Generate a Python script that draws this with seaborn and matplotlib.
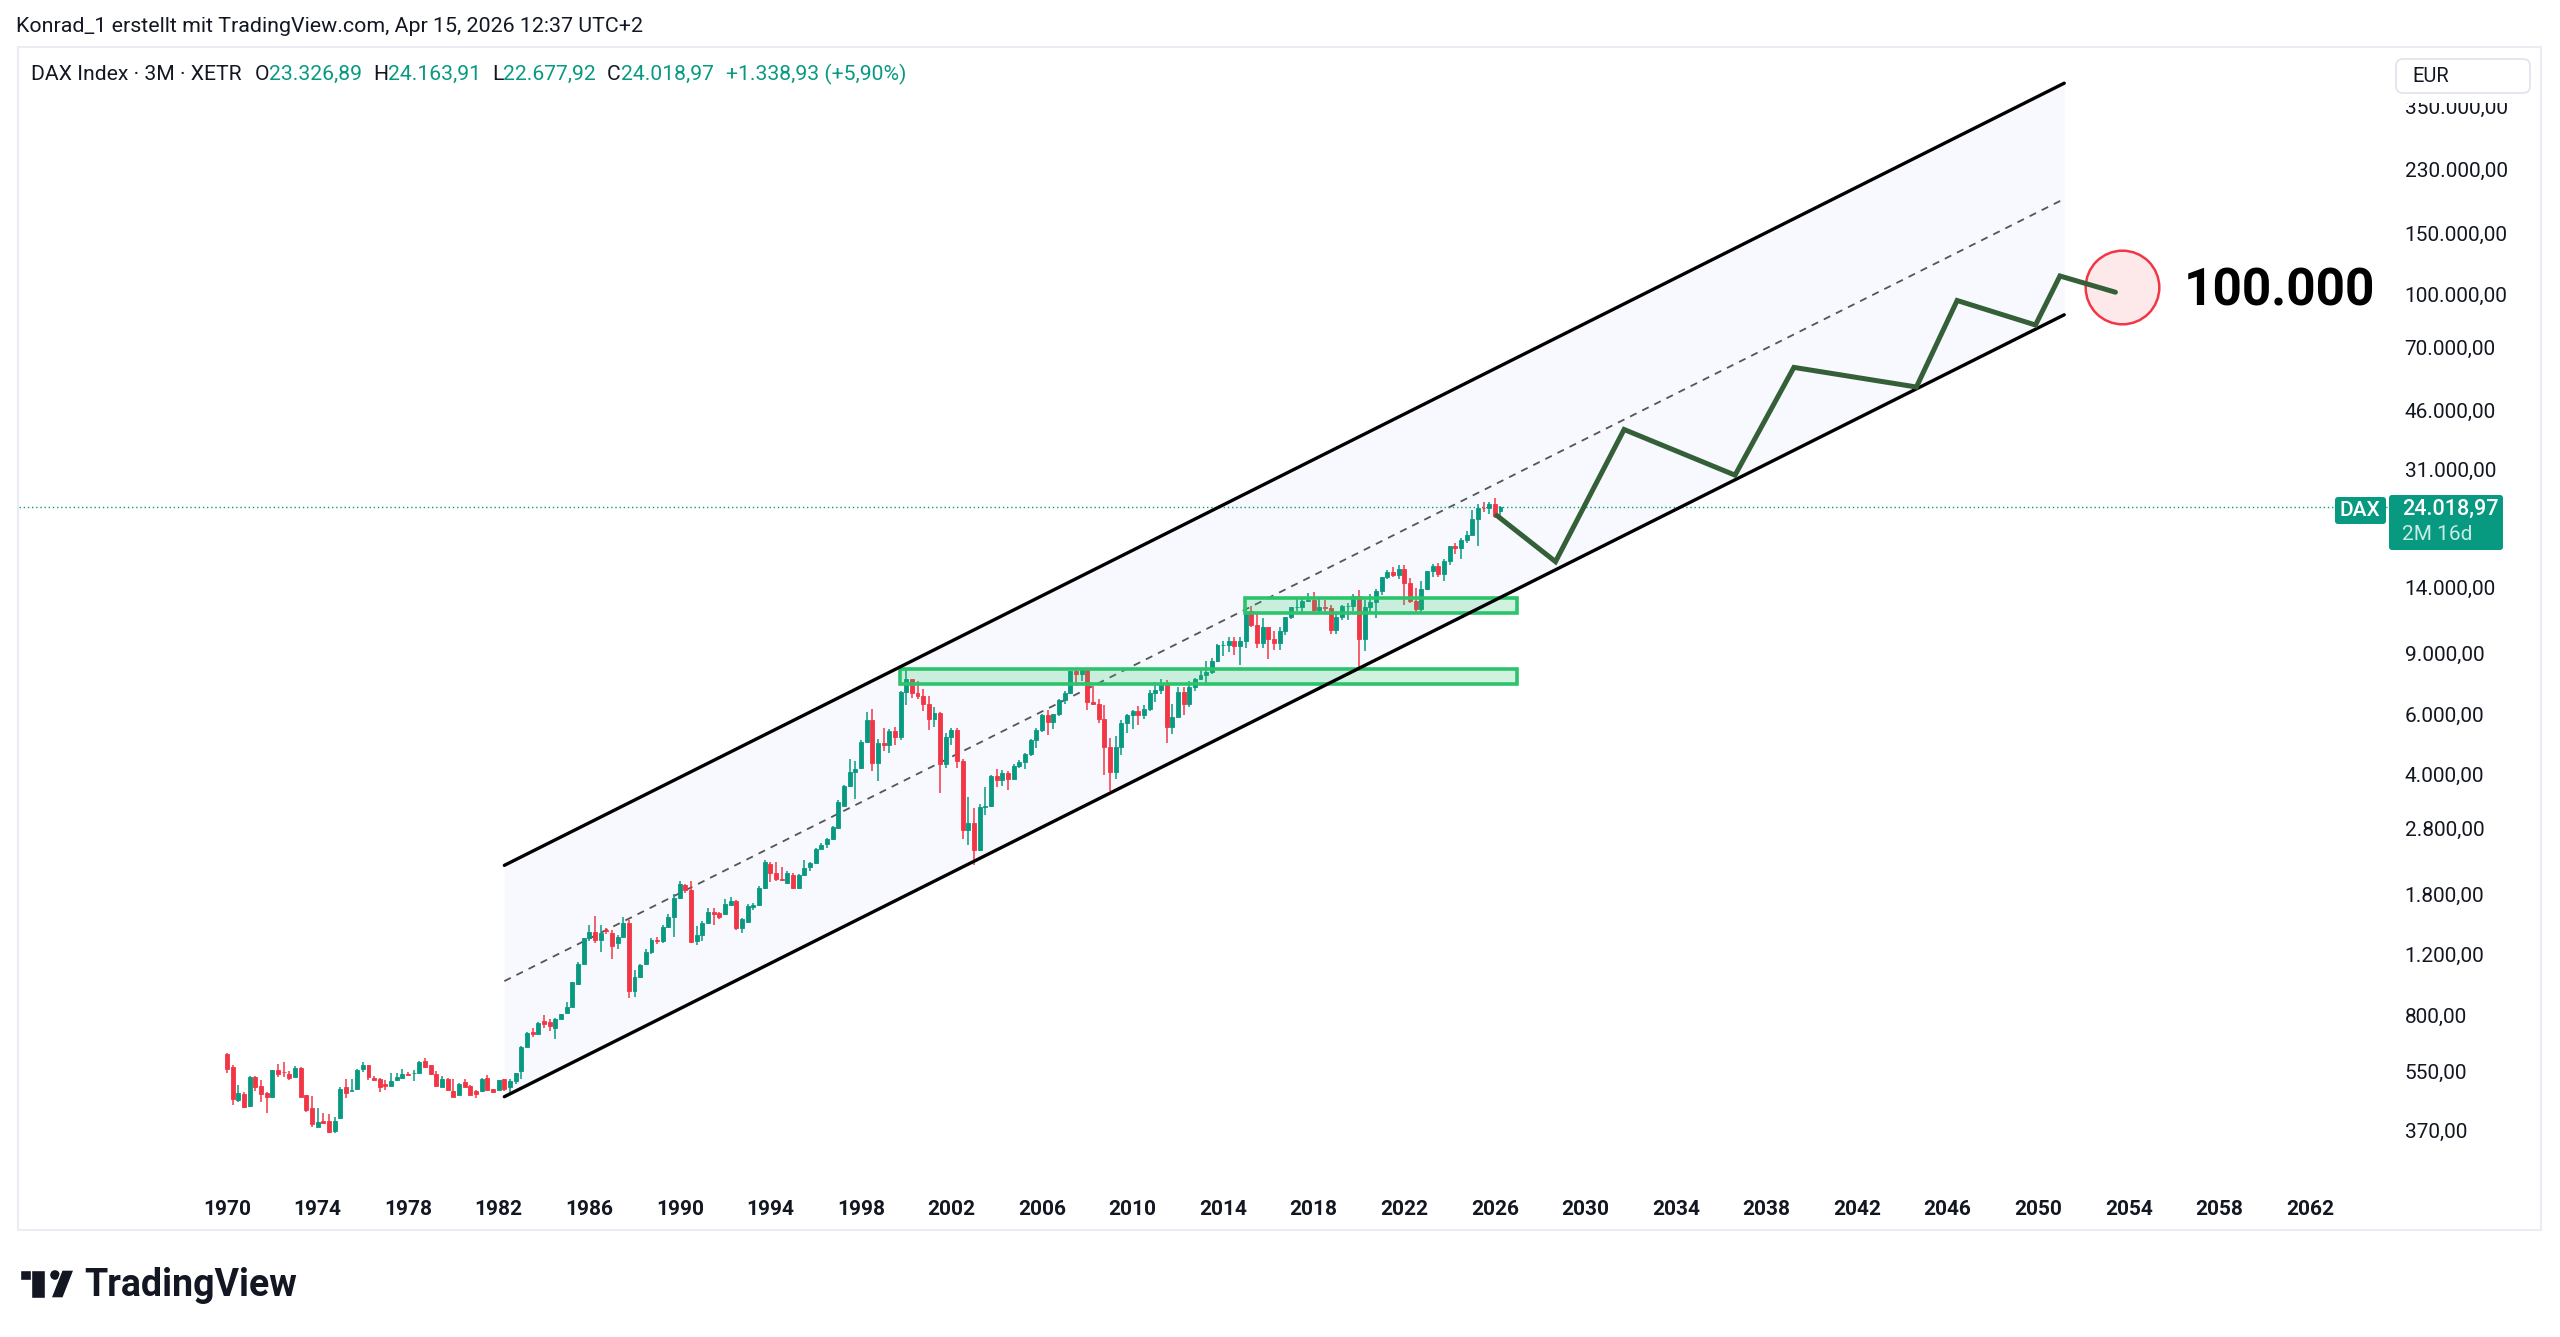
import numpy as np
import pandas as pd
import matplotlib
matplotlib.use("Agg")
import matplotlib.pyplot as plt
from matplotlib.patches import Rectangle, FancyBboxPatch, Circle, Polygon
from matplotlib.transforms import Affine2D
import seaborn as sns

# ---- DAX quarterly candles, 1970Q1 .. 2026Q2 ----
quarters = pd.period_range("1970Q1", "2026Q2", freq="Q")

opens = [
    618, 565, 454, 472,  436, 531, 498, 477,  462, 553, 549, 541,  531, 561, 468, 429,   # 1970-73
    380, 395, 395, 369,  402, 496, 482, 487,  557, 572, 527, 524,  505, 498, 519, 525,   # 1974-77
    541, 543, 545, 589,  572, 541, 496, 524,  483, 470, 511, 500,  481, 482, 527, 488,   # 1978-81
    486, 522, 496, 515,  550, 649, 717, 706,  771, 765, 734, 783,  811, 846, 987, 1130,  # 1982-85
    1340, 1400, 1324, 1420,  1385, 1300, 1355, 1480,  940, 1036, 1130, 1223,            # 1986-88
    1328, 1316, 1449, 1550,  1760, 1913, 1849, 1320,  1370, 1488, 1595, 1585,           # 1989-91
    1578, 1673, 1722, 1433,  1498, 1655, 1673, 1871,  2202, 2081, 1987, 1944,           # 1992-94
    2046, 1871, 2046, 2163,  2222, 2443, 2515, 2604,  2797, 3256, 3722, 4088,           # 1995-97
    4179, 4997, 5777, 4322,  4940, 4884, 5378, 5150,  6958, 7599, 6898, 6798,           # 1998-00
    6434, 5830, 6058, 4308,  5160, 5397, 4383, 2770,  2893, 2424, 3221, 3257,           # 2001-03
    3965, 3856, 4053, 3893,  4256, 4349, 4586, 5044,  5408, 5970, 5683, 6004,           # 2004-06
    6597, 6917, 8007, 7862,  8067, 6535, 6418, 5831,  4810, 4085, 4809, 5675,           # 2007-09
    5957, 6154, 5966, 6229,  6914, 7041, 7376, 5502,  5898, 6947, 6416, 7216,           # 2010-12
    7612, 7795, 7959, 8594,  9552, 9556, 9833, 9474,  9806, 11966, 10945, 9660,         # 2013-15
    10743, 9965, 9680, 10511,  11481, 12313, 12325, 12829,  12918, 12097, 12306, 12247, # 2016-18
    10559, 11526, 12399, 12428,  13249, 9936, 12311, 12761,  13719, 15008, 15531, 15261,# 2019-21
    15885, 14415, 12784, 12114,  13924, 15629, 16148, 15387,  16752, 18492, 18235, 19325,# 2022-24
    19909, 22163, 23910, 23881,  24490, 23327,                                          # 2025-26
]
highs = [
    620, 572, 503, 478,  532, 533, 519, 480,  556, 576, 586, 552,  569, 565, 470, 467,
    429, 417, 413, 406,  496, 522, 521, 557,  584, 574, 533, 526,  519, 543, 545, 558,
    549, 555, 590, 600,  575, 551, 533, 526,  522, 507, 521, 503,  485, 527, 538, 490,
    520, 524, 524, 545,  652, 717, 733, 764,  800, 778, 786, 808,  874, 1000, 1140, 1345,
    1465, 1555, 1465, 1440,  1416, 1370, 1543, 1510,  1080, 1130, 1245, 1340,
    1350, 1460, 1580, 1800,  1960, 1926, 1966, 1450,  1500, 1640, 1640, 1600,
    1740, 1770, 1730, 1530,  1680, 1700, 1900, 2260,  2238, 2238, 2163, 2100,
    2070, 2060, 2260, 2240,  2460, 2540, 2620, 2850,  3380, 3750, 4440, 4400,
    5050, 6100, 6217, 5100,  5460, 5450, 5500, 6990,  8136, 7600, 7500, 7120,
    6795, 6300, 6100, 5300,  5460, 5470, 4450, 3450,  3200, 3300, 3700, 4000,
    4160, 4140, 4100, 4300,  4430, 4630, 5100, 5460,  6000, 6160, 6020, 6630,
    7030, 8040, 8150, 8100,  8110, 7230, 6650, 6400,  5110, 5180, 5760, 6030,
    6160, 6340, 6390, 7080,  7440, 7600, 7530, 6430,  7190, 7200, 7480, 7670,
    8060, 8560, 8770, 9620,  9800, 10050, 10050, 10090,  12220, 12390, 11800, 11430,
    10750, 10490, 10760, 11480,  12310, 12950, 12960, 13530,  13600, 13200, 12890, 12460,
    11800, 12440, 12660, 13430,  13800, 12900, 13460, 13900,  15070, 15800, 16030, 16290,
    16290, 14930, 13950, 14680,  15700, 16430, 16530, 17000,  18570, 18890, 19490, 20520,
    23476, 24479, 24770, 24800,  25500, 24164,
]
lows = [
    543, 439, 449, 430,  434, 483, 449, 417,  460, 528, 531, 519,  529, 462, 420, 380,
    378, 386, 365, 365,  401, 460, 482, 485,  549, 519, 516, 478,  485, 497, 517, 524,
    535, 517, 545, 561,  537, 498, 494, 483,  464, 468, 494, 468,  460, 480, 482, 476,
    484, 482, 470, 504,  524, 646, 694, 704,  736, 722, 681, 781,  811, 845, 980, 1125,
    1320, 1300, 1223, 1380,  1163, 1250, 1350, 900,  905, 1030, 1117, 1210,
    1290, 1300, 1440, 1350,  1740, 1820, 1300, 1280,  1320, 1480, 1465, 1520,
    1570, 1665, 1420, 1390,  1495, 1620, 1660, 1860,  1957, 1970, 1960, 1930,
    1860, 1865, 2030, 2100,  2210, 2430, 2460, 2590,  2790, 3250, 3700, 3400,
    4150, 4940, 4100, 3833,  4700, 4620, 4900, 5050,  6388, 6700, 6650, 6150,
    5400, 5500, 3540, 4200,  4900, 4200, 2600, 2500,  2189, 2400, 3050, 3230,
    3690, 3720, 3620, 3860,  4180, 4150, 4550, 4780,  5330, 5240, 5450, 5950,
    6440, 6890, 7250, 7500,  6170, 6400, 5660, 4010,  3589, 3900, 4580, 5300,
    5430, 5600, 5800, 6150,  6510, 6860, 4966, 5260,  5900, 5970, 6290, 7030,
    7570, 7410, 7850, 8500,  8870, 9100, 8900, 8355,  9380, 10790, 9330, 9340,
    8700, 9210, 9210, 10170,  11380, 12000, 11870, 12790,  11730, 11880, 11780, 10280,
    10280, 11300, 11270, 11990,  8256, 9150, 11870, 11450,  13310, 14800, 15000, 14800,
    12440, 12620, 11860, 11860,  13800, 15000, 15000, 14630,  16350, 17600, 17020, 18830,
    19860, 18490, 23200, 23000,  22400, 22678,
]
closes = [
    560, 456, 477, 432,  528, 494, 472, 464,  553, 540, 546, 526,  563, 464, 425, 386,
    393, 390, 367, 395,  489, 475, 485, 555,  574, 529, 519, 496,  498, 514, 531, 541,
    537, 545, 587, 565,  541, 498, 524, 485,  464, 504, 496, 470,  473, 524, 485, 478,
    518, 488, 515, 543,  649, 709, 706, 761,  755, 745, 781, 806,  844, 998, 1130, 1340,
    1400, 1324, 1385, 1410,  1271, 1355, 1480, 940,  1036, 1117, 1223, 1328,
    1316, 1449, 1550, 1760,  1926, 1849, 1309, 1370,  1488, 1595, 1578, 1543,
    1685, 1722, 1433, 1521,  1662, 1673, 1871, 2238,  2081, 1987, 1978, 2069,
    1871, 2046, 2138, 2222,  2443, 2498, 2604, 2829,  3343, 3722, 4088, 4150,
    4997, 5777, 4322, 4940,  4884, 5378, 5150, 6958,  7599, 6898, 6798, 6434,
    5830, 6058, 4308, 5160,  5397, 4383, 2770, 2893,  2424, 3221, 3257, 3965,
    3856, 4053, 3893, 4256,  4349, 4586, 5044, 5408,  5970, 5683, 6004, 6597,
    6917, 8007, 7862, 8067,  6535, 6418, 5831, 4810,  4085, 4809, 5675, 5957,
    6154, 5966, 6229, 6914,  7041, 7376, 5502, 5898,  6947, 6416, 7216, 7612,
    7795, 7959, 8594, 9552,  9556, 9833, 9474, 9806,  11966, 10945, 9660, 10743,
    9965, 9680, 10511, 11481,  12313, 12325, 12829, 12918,  12097, 12306, 12247, 10559,
    11526, 12399, 12428, 13249,  9936, 12311, 12761, 13719,  15008, 15531, 15261, 15885,
    14415, 12784, 12114, 13924,  15629, 16148, 15387, 16752,  18492, 18235, 19325, 19909,
    22163, 23910, 23881, 24490,  22680, 24019,
]

# parallel channel (log-linear), start / end
channel_years = [1982.25, 2051.15]
channel_lower = [464, 87000]
channel_mid = [1006, 189000]
channel_upper = [2183, 410000]

# support zones: (from, to, bottom, top)
zone_from = [1999.72, 2014.95]
zone_to = [2026.96, 2026.96]
zone_bottom = [7350, 11800]
zone_top = [8125, 13090]

# projected path
proj_years = [2026.09, 2028.68, 2031.71, 2036.61, 2039.21, 2044.62, 2046.42, 2049.88, 2050.96, 2053.41]
proj_values = [22700, 16670, 40370, 29740, 61180, 53650, 95740, 81250, 112800, 101200]

target_year, target_value = 2053.69, 104500
last_price = 24018.97

year_ticks = list(range(1970, 2063, 4))
price_ticks = [370, 550, 800, 1200, 1800, 2800, 4000, 6000, 9000, 14000,
               31000, 46000, 70000, 100000, 150000, 230000, 350000]

UP, DOWN = "#089981", "#f23645"
INK = "#131722"

sns.set_theme(style="white")
plt.rcParams["font.family"] = ["Roboto", "DejaVu Sans"]

W, H = 2560, 1337
fig = plt.figure(figsize=(W / 100, H / 100), dpi=100)
fig.patch.set_facecolor("white")
pix = Affine2D().scale(1, -1).translate(0, H)  # pixel coords, y from top


def de(v):
    s = f"{v:,.2f}"
    return s.replace(",", "X").replace(".", ",").replace("X", ".")


ax_l, ax_r, ax_t, ax_b = 19, 2388, 48, 1190
ax = fig.add_axes([ax_l / W, 1 - ax_b / H, (ax_r - ax_l) / W, (ax_b - ax_t) / H])
ax.set_yscale("log")
ax.set_xlim(1960.813, 2065.451)
ax.set_ylim(248.5, 518900)
ax.set_facecolor("white")
for sp in ax.spines.values():
    sp.set_visible(False)

t = np.array([p.year + (p.quarter - 1) / 4 for p in quarters])
o = np.array(opens, float)
h = np.array(highs, float)
lo = np.array(lows, float)
c = np.array(closes, float)
cols = np.where(c >= o, UP, DOWN)

# channel
cy = np.array(channel_years)
ax.fill_between(cy, channel_lower, channel_upper, color="#2962ff", alpha=0.035, lw=0, zorder=1)
ax.plot(cy, channel_mid, color="#555555", lw=1.3, dashes=(4, 3.5), zorder=2)

# last price line
ax.axhline(last_price, color=UP, lw=1.0, ls=(0, (1, 2)), zorder=2)

# candles
ax.vlines(t, lo, h, colors=cols, lw=1.1, zorder=3)
ax.bar(t, np.abs(c - o), bottom=np.minimum(o, c), width=0.175, color=cols,
       edgecolor=cols, linewidth=0.6, zorder=3.1)

# zones
for a, b, bt, tp in zip(zone_from, zone_to, zone_bottom, zone_top):
    ax.add_patch(Rectangle((a, bt), b - a, tp - bt, facecolor=(0.18, 0.78, 0.42, 0.22),
                           edgecolor="#2cc46a", lw=2.6, zorder=4))

sns.lineplot(x=channel_years, y=channel_upper, ax=ax, color="black", lw=2.4, zorder=5)
sns.lineplot(x=channel_years, y=channel_lower, ax=ax, color="black", lw=2.4, zorder=5)

# target circle + path
ax.scatter([target_year], [target_value], s=53 ** 2, facecolor="#fde9ea", edgecolor="#f23645",
           lw=1.8, zorder=5.5)
sns.lineplot(x=proj_years, y=proj_values, ax=ax, color="#355f37", lw=3.6, sort=False,
             zorder=6, solid_joinstyle="miter")
ax.text(2056.45, 102000, "100.000", fontsize=37, fontweight="bold", color="black",
        ha="left", va="center", zorder=7)

# axes ticks
ax.set_xticks(year_ticks)
ax.set_xticklabels([str(y) for y in year_ticks], fontsize=15, color=INK, fontweight="semibold")
ax.tick_params(axis="x", length=0, pad=7)
ax.yaxis.tick_right()
ax.yaxis.set_minor_locator(matplotlib.ticker.NullLocator())
ax.set_yticks(price_ticks)
ax.set_yticklabels([de(v) for v in price_ticks], fontsize=15, color=INK)
ax.tick_params(axis="y", length=0, pad=12)
ax.set_xlabel("")
ax.set_ylabel("")
ax.grid(False)
leg = ax.get_legend()
if leg:
    leg.remove()

# ---- figure furniture ----
fig.patches.append(Rectangle((18, 47), 2523, 1183, transform=pix, fill=False,
                             edgecolor="#e9ecf2", lw=1.5, zorder=0.5))
fig.patches.append(Rectangle((2389, 49), 150, 54, transform=pix, facecolor="white",
                             edgecolor="none", zorder=1))
fig.patches.append(FancyBboxPatch((2396, 59), 134, 34, boxstyle="round,pad=0,rounding_size=7",
                                  transform=pix, facecolor="white", edgecolor="#e0e3eb",
                                  lw=1.2, zorder=1.1))
fig.text(2412, 77, "EUR", transform=pix, fontsize=14.5, color=INK, va="center", zorder=3)

# price label
fig.patches.append(FancyBboxPatch((2335, 497), 51, 27, boxstyle="round,pad=0,rounding_size=3",
                                  transform=pix, facecolor=UP, edgecolor="none", zorder=1.2))
fig.patches.append(FancyBboxPatch((2389, 495), 114, 55, boxstyle="round,pad=0,rounding_size=3",
                                  transform=pix, facecolor=UP, edgecolor="none", zorder=1.2))
fig.text(2360, 511, "DAX", transform=pix, fontsize=15, color="white", ha="center",
         va="center", fontweight="medium", zorder=3)
fig.text(2402, 509, de(last_price), transform=pix, fontsize=15.5, color="white",
         va="center", fontweight="medium", zorder=3)
fig.text(2402, 535, "2M 16d", transform=pix, fontsize=15, color="#c8ece4",
         va="center", zorder=3)

# header
fig.text(16, 27, "Konrad_1 erstellt mit TradingView.com, Apr 15, 2026 12:37 UTC+2",
         transform=pix, fontsize=15.4, color=INK, va="center")

rend = fig.canvas.get_renderer()
x = 31
pieces = [("DAX Index · 3M · XETR", INK, 13), ("O", INK, 0), ("23.326,89", UP, 11),
          ("H", INK, 0), ("24.163,91", UP, 11), ("L", INK, 0), ("22.677,92", UP, 11),
          ("C", INK, 0), ("24.018,97", UP, 12), ("+1.338,93 (+5,90%)", UP, 0)]
for s, col, gap in pieces:
    tx = fig.text(x, 74, s, transform=pix, fontsize=15.2, color=col, va="center")
    x += tx.get_window_extent(rend).width + gap

# TradingView logo
fig.patches.append(Rectangle((20, 1270), 25, 10, transform=pix, facecolor=INK, zorder=2))
fig.patches.append(Rectangle((31, 1270), 14, 28, transform=pix, facecolor=INK, zorder=2))
fig.patches.append(Circle((55, 1275), 5.5, transform=pix, facecolor=INK, zorder=2))
fig.patches.append(Polygon([(62, 1270), (74, 1270), (63, 1298), (51, 1298)], closed=True,
                           transform=pix, facecolor=INK, zorder=2))
fig.text(84, 1285, "TradingView", transform=pix, fontsize=27, fontweight="bold", color=INK,
         va="center")

fig.savefig("out.png", dpi=100, facecolor="white")
